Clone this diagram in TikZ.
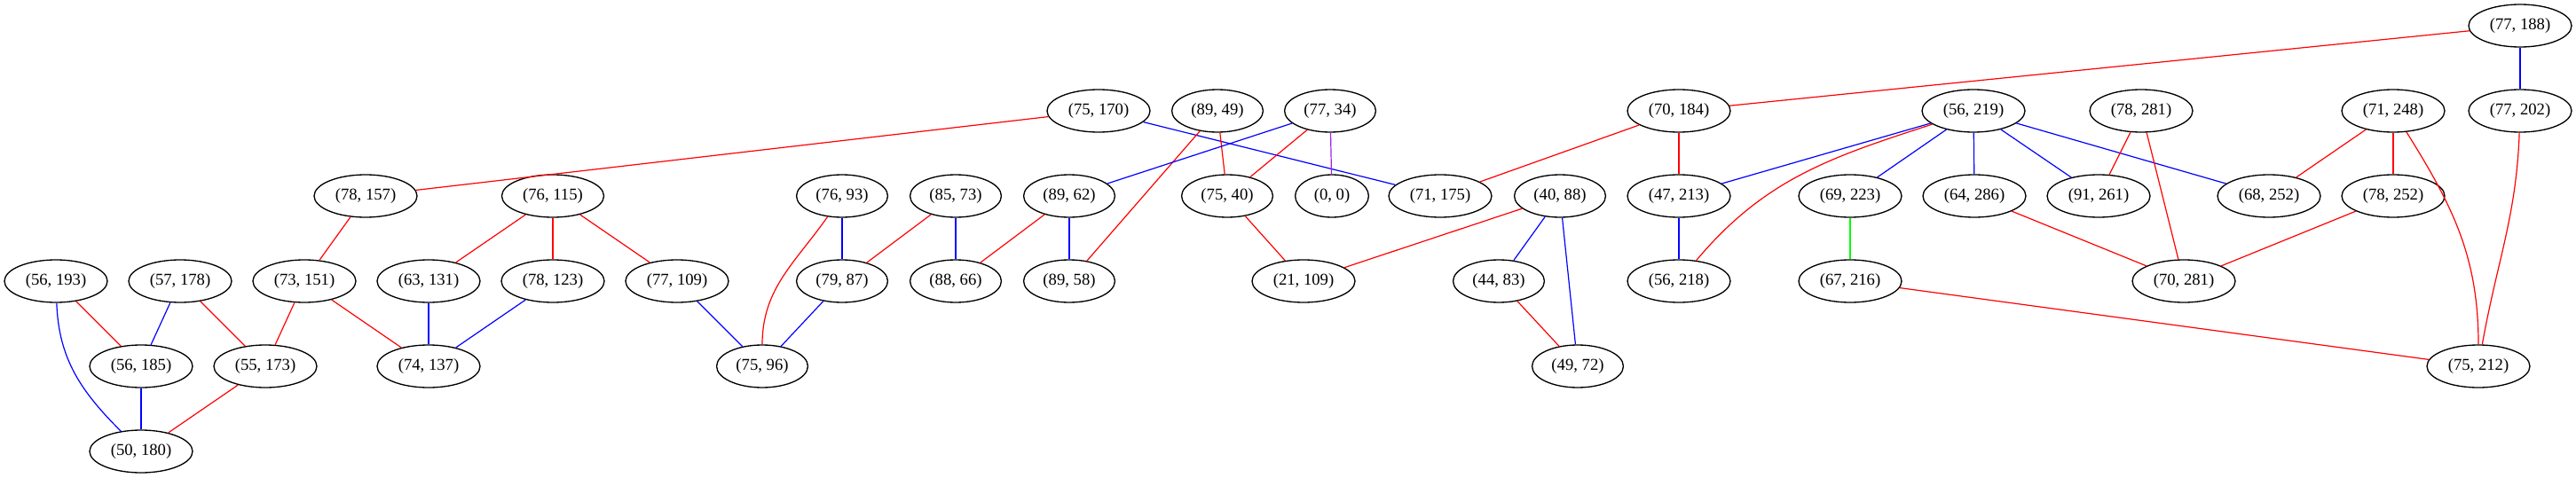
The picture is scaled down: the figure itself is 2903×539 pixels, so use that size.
\documentclass[tikz,border=0pt]{standalone}
\usepackage{fontspec}
\setmainfont{Liberation Serif}
\usetikzlibrary{shapes.geometric}
\definecolor{gvpurple}{HTML}{A020F0}
\definecolor{gvgreen}{HTML}{00FF00}

\begin{document}
\begin{tikzpicture}[
    x=0.75pt, y=-0.75pt,
    line width=0.9pt,
    pairnode/.style={
        ellipse, draw=black, line width=1pt, inner xsep=5.1pt, inner ysep=2pt,
        minimum height=36pt, minimum width=62pt,
        font=\fontsize{14}{16}\selectfont
      },
  ]
  \useasboundingbox (0,0) rectangle (2903,539);
  % rank 0
  \node[pairnode] (n77-188) at (2840,29) {(77, 188)};
  % rank 1
  \node[pairnode] (n75-170) at (1238,125) {(75, 170)};
  \node[pairnode] (n89-49) at (1372,125) {(89, 49)};
  \node[pairnode] (n77-34) at (1499,125) {(77, 34)};
  \node[pairnode] (n70-184) at (1892,125) {(70, 184)};
  \node[pairnode] (n56-219) at (2224,125) {(56, 219)};
  \node[pairnode] (n78-281) at (2413,125) {(78, 281)};
  \node[pairnode] (n71-248) at (2697,125) {(71, 248)};
  \node[pairnode] (n77-202) at (2840,125) {(77, 202)};
  % rank 2
  \node[pairnode] (n78-157) at (412,221) {(78, 157)};
  \node[pairnode] (n76-115) at (623,221) {(76, 115)};
  \node[pairnode] (n76-93) at (949,221) {(76, 93)};
  \node[pairnode] (n85-73) at (1077,221) {(85, 73)};
  \node[pairnode] (n89-62) at (1205,221) {(89, 62)};
  \node[pairnode] (n75-40) at (1383,221) {(75, 40)};
  \node[pairnode] (n0-0) at (1501,221) {(0, 0)};
  \node[pairnode] (n71-175) at (1623,221) {(71, 175)};
  \node[pairnode] (n40-88) at (1758,221) {(40, 88)};
  \node[pairnode] (n47-213) at (1892,221) {(47, 213)};
  \node[pairnode] (n69-223) at (2085,221) {(69, 223)};
  \node[pairnode] (n64-286) at (2225,221) {(64, 286)};
  \node[pairnode] (n91-261) at (2365,221) {(91, 261)};
  \node[pairnode] (n68-252) at (2557,221) {(68, 252)};
  \node[pairnode] (n78-252) at (2697,221) {(78, 252)};
  % rank 3
  \node[pairnode] (n56-193) at (63,317) {(56, 193)};
  \node[pairnode] (n57-178) at (203,317) {(57, 178)};
  \node[pairnode] (n73-151) at (343,317) {(73, 151)};
  \node[pairnode] (n63-131) at (483,317) {(63, 131)};
  \node[pairnode] (n78-123) at (623,317) {(78, 123)};
  \node[pairnode] (n77-109) at (763,317) {(77, 109)};
  \node[pairnode] (n79-87) at (949,317) {(79, 87)};
  \node[pairnode] (n88-66) at (1077,317) {(88, 66)};
  \node[pairnode] (n89-58) at (1205,317) {(89, 58)};
  \node[pairnode] (n21-109) at (1469,317) {(21, 109)};
  \node[pairnode] (n44-83) at (1689,317) {(44, 83)};
  \node[pairnode] (n56-218) at (1892,317) {(56, 218)};
  \node[pairnode] (n67-216) at (2085,317) {(67, 216)};
  \node[pairnode] (n70-281) at (2461,317) {(70, 281)};
  % rank 4
  \node[pairnode] (n56-185) at (159,413) {(56, 185)};
  \node[pairnode] (n55-173) at (299,413) {(55, 173)};
  \node[pairnode] (n74-137) at (483,413) {(74, 137)};
  \node[pairnode] (n75-96) at (859,413) {(75, 96)};
  \node[pairnode] (n49-72) at (1778,413) {(49, 72)};
  \node[pairnode] (n75-212) at (2793,413) {(75, 212)};
  % rank 5
  \node[pairnode] (n50-180) at (159,509) {(50, 180)};

  \path[-]
    (n77-188) edge [red] (n70-184)
    (n77-188) edge [blue] (n77-202)
    (n75-170) edge [red] (n78-157)
    (n75-170) edge [blue] (n71-175)
    (n89-49) edge [red] (n75-40)
    (n89-49) edge [red] (n89-58)
    (n77-34) edge [blue] (n89-62)
    (n77-34) edge [red] (n75-40)
    (n77-34) edge [gvpurple] (n0-0)
    (n70-184) edge [red] (n71-175)
    (n70-184) edge [red] (n47-213)
    (n56-219) edge [blue] (n47-213)
    (n56-219) edge [red, out=198, in=50] (n56-218)
    (n56-219) edge [blue] (n69-223)
    (n56-219) edge [blue] (n64-286)
    (n56-219) edge [blue] (n91-261)
    (n56-219) edge [blue] (n68-252)
    (n78-281) edge [red] (n91-261)
    (n78-281) edge [red] (n70-281)
    (n71-248) edge [red] (n68-252)
    (n71-248) edge [red] (n78-252)
    (n71-248) edge [red, out=-58, in=90] (n75-212)
    (n77-202) edge [red, out=-92, in=80] (n75-212)
    (n78-157) edge [red] (n73-151)
    (n76-115) edge [red] (n63-131)
    (n76-115) edge [red] (n78-123)
    (n76-115) edge [red] (n77-109)
    (n76-93) edge [blue] (n79-87)
    (n76-93) edge [red, out=235, in=90] (n75-96)
    (n85-73) edge [red] (n79-87)
    (n85-73) edge [blue] (n88-66)
    (n89-62) edge [red] (n88-66)
    (n89-62) edge [blue] (n89-58)
    (n75-40) edge [red] (n21-109)
    (n40-88) edge [red] (n21-109)
    (n40-88) edge [blue] (n44-83)
    (n40-88) edge [blue] (n49-72)
    (n47-213) edge [blue] (n56-218)
    (n69-223) edge [gvgreen] (n67-216)
    (n64-286) edge [red] (n70-281)
    (n78-252) edge [red] (n70-281)
    (n56-193) edge [red] (n56-185)
    (n56-193) edge [blue, out=-88, in=135] (n50-180)
    (n57-178) edge [blue] (n56-185)
    (n57-178) edge [red] (n55-173)
    (n73-151) edge [red] (n55-173)
    (n73-151) edge [red] (n74-137)
    (n63-131) edge [blue] (n74-137)
    (n78-123) edge [blue] (n74-137)
    (n77-109) edge [blue] (n75-96)
    (n79-87) edge [blue] (n75-96)
    (n56-185) edge [blue] (n50-180)
    (n55-173) edge [red] (n50-180)
    (n44-83) edge [red] (n49-72)
    (n67-216) edge [red] (n75-212)
  ;
\end{tikzpicture}
\end{document}
